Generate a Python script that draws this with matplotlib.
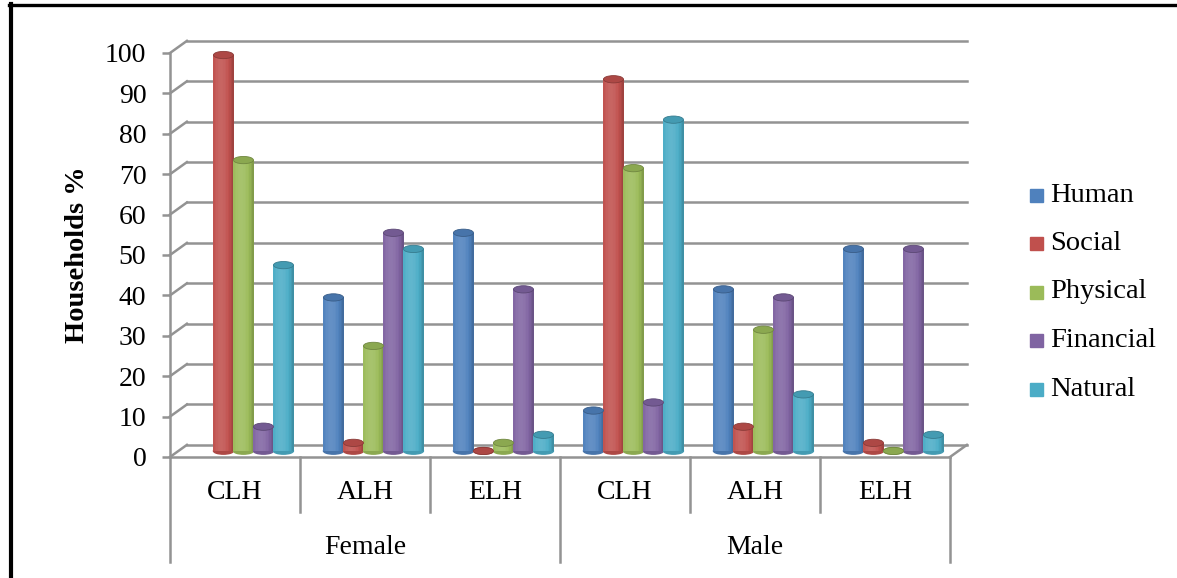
import numpy as np
import matplotlib.pyplot as plt
from matplotlib import transforms
from matplotlib.patches import Ellipse, Rectangle
from matplotlib.lines import Line2D
from matplotlib.colors import to_rgb

plt.rcParams['font.family'] = ['Liberation Serif', 'DejaVu Serif']

groups = ['Female', 'Male']
types = ['CLH', 'ALH', 'ELH']
series = ['Human', 'Social', 'Physical', 'Financial', 'Natural']
colors = ['#4F81BD', '#C0504D', '#9BBB59', '#8064A2', '#4BACC6']

# one entry per category (Female CLH, ALH, ELH, Male CLH, ALH, ELH); nan = no bar
human = [np.nan, 38, 54, 10, 40, 50]
social = [98, 2, 0, 92, 6, 2]
physical = [72, 26, 2, 70, 30, 0]
financial = [6, 54, 40, 12, 38, 50]
natural = [46, 50, 4, 82, 14, 4]
values = [human, social, physical, financial, natural]

fig = plt.figure(figsize=(11.77, 5.78), dpi=100)
W, H = 1177, 578
ax = fig.add_axes([170 / W, 1 - 457 / H, 780 / W, 404 / H])
ax.set_xlim(0, 6)
ax.set_ylim(0, 100)

grid_c = '#939393'
# depth of the 3-D box in data units (back wall shift)
DX, DY = 0.13, 3.0
back = transforms.Affine2D().translate(DX, DY) + ax.transData
mid = transforms.Affine2D().translate(DX / 2, DY / 2) + ax.transData

# back wall gridlines and left wall diagonals
for yv in range(0, 101, 10):
    ax.plot([0, 6], [yv, yv], color=grid_c, lw=1.8, transform=back,
            clip_on=False, zorder=1)
    ax.plot([0, DX], [yv, yv + DY], color=grid_c, lw=1.8, clip_on=False, zorder=1)
# floor right edge
ax.plot([6, 6 + DX], [0, DY], color=grid_c, lw=1.8, clip_on=False, zorder=1)

for s in ['top', 'right']:
    ax.spines[s].set_visible(False)
for s in ['left', 'bottom']:
    ax.spines[s].set_color(grid_c)
    ax.spines[s].set_linewidth(1.8)
ax.patch.set_visible(False)
ax.set_xticks([])
ax.set_yticks(range(0, 101, 10))
ax.tick_params(axis='y', length=6, width=1.8, color=grid_c, pad=11,
               labelsize=20)

# cylinder bars
n = len(series)
bw = 20 / 130
nstrip = 14
t = (np.arange(nstrip) + 0.5) / nstrip
shade = 0.8 + 0.32 * np.clip(1 - ((t - 0.38) / 0.62) ** 2, 0, 1)


def tint(c, f):
    c = np.array(to_rgb(c))
    if f < 1:
        return tuple(c * f)
    return tuple(c + (1 - c) * (f - 1))


for k in range(n):
    base = colors[k]
    for i in range(6):
        v = values[k][i]
        if np.isnan(v):
            continue
        x0 = i + 0.5 + (k - n / 2) * bw
        zo = 3 + i * 0.01
        ax.add_patch(Ellipse((x0 + bw / 2, 0), bw, 1.6, color=tint(base, 0.9),
                             transform=mid, clip_on=False, zorder=zo))
        sw = bw / nstrip
        for j in range(nstrip):
            ax.bar(x0 + j * sw, v, width=sw * 1.08, align='edge',
                   color=tint(base, shade[j]), linewidth=0,
                   transform=mid, clip_on=False, zorder=zo + 0.001)
        ax.add_patch(Ellipse((x0 + bw / 2, v), bw, 1.8, facecolor=tint(base, 0.9),
                             edgecolor=tint(base, 0.72), lw=0.6,
                             transform=mid, clip_on=False, zorder=zo + 0.002))

# category axis dividers and labels
for i in range(7):
    bottom = -26 if i % 3 == 0 else -13.6
    ax.plot([i, i], [0, bottom], color=grid_c, lw=1.8, clip_on=False)
for i in range(6):
    ax.text(i + 0.5, -8.9, types[i % 3], ha='center', va='center', fontsize=20)
for g, name in enumerate(groups):
    ax.text(g * 3 + 1.5, -22.3, name, ha='center', va='center', fontsize=20)

fig.text(78 / W, 1 - 255 / H, 'Households %', rotation=90, ha='center',
         va='center', fontsize=20.5, fontweight='bold')

# legend
for k, name in enumerate(series):
    yc = 195 + k * 48.5
    fig.patches.append(Rectangle((1030 / W, 1 - (yc + 6.5) / H), 13 / W, 13 / H,
                                 transform=fig.transFigure, color=colors[k]))
    fig.text(1050 / W, 1 - yc / H, name, ha='left', va='center', fontsize=20.5)

# outer frame
fig.add_artist(Line2D([11 / W, 11 / W], [0, 1 - 4 / H], color='black', lw=3,
                      transform=fig.transFigure))
fig.add_artist(Line2D([9 / W, 1], [1 - 5 / H, 1 - 5 / H], color='black', lw=2.4,
                      transform=fig.transFigure))

fig.savefig('out.png', dpi=100)
